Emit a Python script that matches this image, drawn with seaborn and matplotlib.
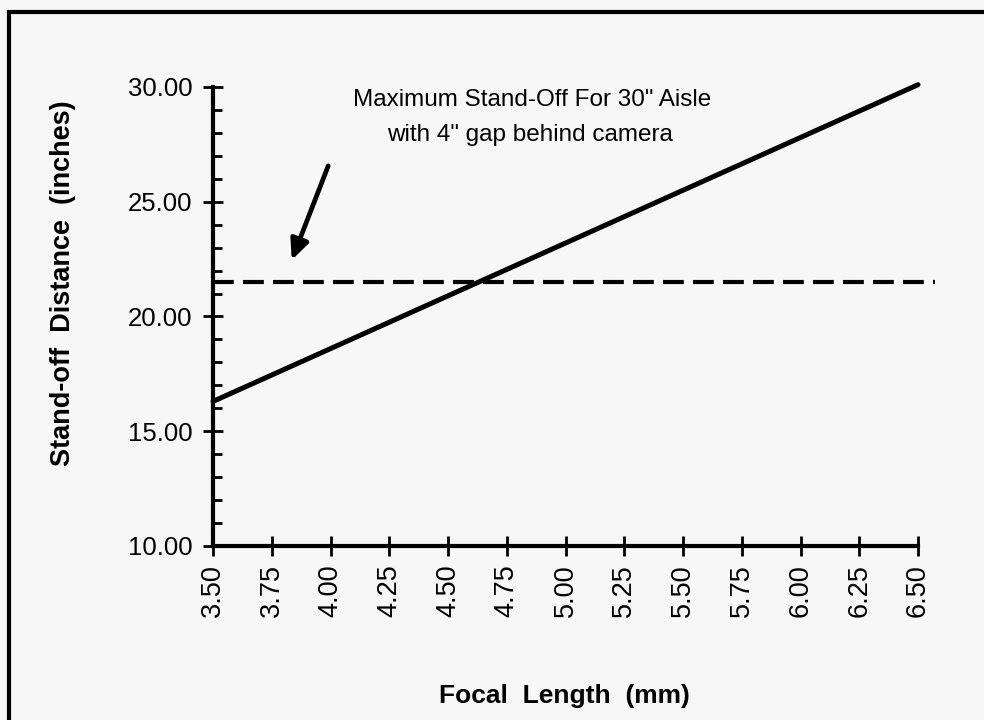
import numpy as np
import pandas as pd
import seaborn as sns
import matplotlib.pyplot as plt
import matplotlib.ticker as ticker
from matplotlib.patches import Rectangle

# values
focal_length = [3.50, 3.75, 4.00, 4.25, 4.50, 4.75, 5.00, 5.25, 5.50, 5.75, 6.00, 6.25, 6.50]
standoff = [16.3, 17.45, 18.6, 19.75, 20.9, 22.05, 23.2, 24.35, 25.5, 26.65, 27.8, 28.95, 30.1]
max_standoff = 21.5
x_ticks = [3.50, 3.75, 4.00, 4.25, 4.50, 4.75, 5.00, 5.25, 5.50, 5.75, 6.00, 6.25, 6.50]
y_ticks = [10, 15, 20, 25, 30]

df = pd.DataFrame({"focal": focal_length, "standoff": standoff})

sns.set_style("ticks")
plt.rcParams["font.family"] = ["Liberation Sans", "DejaVu Sans"]
plt.rcParams["text.color"] = "black"
plt.rcParams["axes.labelcolor"] = "black"
bg = "#f7f7f7"

fig = plt.figure(figsize=(9.84, 7.2), dpi=100, facecolor=bg)
ax = fig.add_axes([0.2165, 0.2417, 0.7356, 0.6375], facecolor=bg)

sns.lineplot(data=df, x="focal", y="standoff", ax=ax, color="black", lw=3.6,
             solid_capstyle="round", clip_on=False)
ax.plot([3.5, 6.57], [max_standoff, max_standoff], color="black", lw=3,
        dashes=(5, 2.2), clip_on=False)

ax.set_xlim(3.5, 6.58)
ax.set_ylim(10, 30)

for s in ["top", "right"]:
    ax.spines[s].set_visible(False)
ax.spines["left"].set_bounds(10, 30)
ax.spines["bottom"].set_bounds(3.5, 6.5)
for s in ["left", "bottom"]:
    ax.spines[s].set_linewidth(3)
    ax.spines[s].set_color("black")

ax.set_xticks(x_ticks)
ax.set_xticklabels(["{:.2f}".format(v) for v in x_ticks], rotation=90)
ax.set_yticks(y_ticks)
ax.set_yticklabels(["{:.2f}".format(v) for v in y_ticks])
ax.yaxis.set_minor_locator(ticker.MultipleLocator(1))

ax.tick_params(axis="both", which="major", direction="inout", length=14, width=2,
               labelsize=18.5, colors="black")
ax.tick_params(axis="y", which="major", pad=8)
ax.tick_params(axis="x", which="major", pad=6, labelsize=19.5)
ax.tick_params(axis="y", which="minor", direction="in", length=6.5, width=2,
               colors="black")

ax.set_xlabel("Focal  Length  (mm)", fontsize=19, fontweight="bold")
ax.set_ylabel("Stand-off  Distance  (inches)", fontsize=19.5, fontweight="bold")
ax.xaxis.set_label_coords(0.486, -0.30)
ax.yaxis.set_label_coords(-0.19, 0.573)

ax.text(4.857, 29.43, 'Maximum Stand-Off For 30" Aisle', fontsize=17.5,
        ha="center", va="center")
ax.text(4.85, 27.9, 'with 4" gap behind camera', fontsize=17.5,
        ha="center", va="center")
ax.annotate("", xy=(3.835, 22.46), xytext=(3.99, 26.56),
            arrowprops=dict(arrowstyle="-|>,head_length=1.2,head_width=0.55",
                            color="black", lw=3.4, shrinkA=0, shrinkB=0))

# page border
fig.patches.append(Rectangle((9 / 984, -0.05), 1.1, 1 - 12 / 720 + 0.05,
                             transform=fig.transFigure, fill=False,
                             edgecolor="black", lw=3, clip_on=False))

plt.savefig("out.png", dpi=100, facecolor=bg)
